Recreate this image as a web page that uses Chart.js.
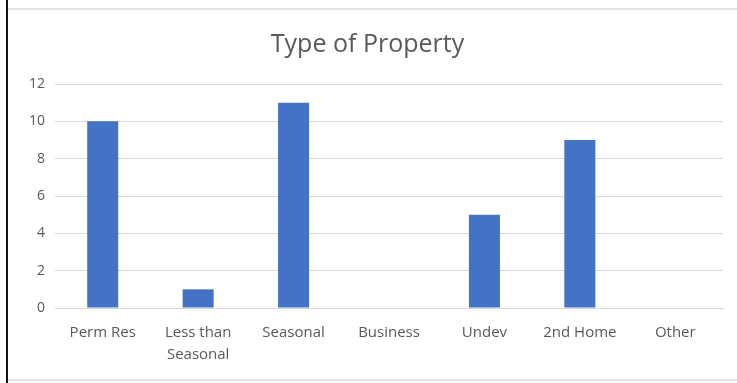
<!DOCTYPE html>
<html>
<head>
<meta charset="utf-8">
<script src="https://cdn.jsdelivr.net/npm/chart.js@4"></script>
<style>
  html, body { margin: 0; padding: 0; background: #fff; }
  #wrap { position: relative; width: 737px; height: 383px; overflow: hidden; }
  #frameLeft { position: absolute; left: 6px; top: 0; width: 2px; height: 383px; background: #111; }
  #frameTop { position: absolute; left: 8px; right: 0; top: 8px; height: 2px; background: #e3e3e3; }
  #frameBottom { position: absolute; left: 8px; right: 0; top: 379px; height: 2px; background: #e3e3e3; }
  #chart { position: absolute; left: 0; top: 0; }
</style>
</head>
<body>
<div id="wrap">
  <canvas id="chart" width="737" height="383"></canvas>
  <div id="frameLeft"></div>
  <div id="frameTop"></div>
  <div id="frameBottom"></div>
</div>
<script>
// Property counts by type
const categories = ["Perm Res", ["Less than", "Seasonal"], "Seasonal", "Business", "Undev", "2nd Home", "Other"];
const counts = [10, 1, 11, 0, 5, 9, 0];
const yTicks = [0, 2, 4, 6, 8, 10, 12];

const textColor = "#595959";
const gridColor = "#d9d9d9";
const fontFamily = "'Open Sans', 'Noto Sans', sans-serif";

new Chart(document.getElementById("chart"), {
  type: "bar",
  data: {
    labels: categories,
    datasets: [{
      label: "Count",
      data: counts,
      backgroundColor: "#4472C4",
      borderWidth: 0,
      categoryPercentage: 1,
      barPercentage: 0.325
    }]
  },
  options: {
    responsive: false,
    animation: false,
    layout: { padding: { left: 12, right: 14, top: 0, bottom: 0 } },
    plugins: {
      legend: { display: false },
      tooltip: { enabled: false },
      title: {
        display: true,
        text: "Type of Property",
        color: textColor,
        font: { family: fontFamily, size: 25, weight: "normal", lineHeight: 1.2 },
        padding: { top: 30, bottom: 24 }
      }
    },
    scales: {
      x: {
        grid: { display: false, drawTicks: false },
        border: { display: true, color: gridColor, width: 1 },
        ticks: {
          color: textColor,
          font: { family: fontFamily, size: 15, lineHeight: 1.47 },
          padding: 14,
          maxRotation: 0,
          autoSkip: false
        },
        afterFit: (scale) => { scale.height = 75; }
      },
      y: {
        min: 0,
        max: 12,
        afterBuildTicks: (scale) => { scale.ticks = yTicks.map(v => ({ value: v })); },
        grid: { color: gridColor, lineWidth: 1, drawTicks: false },
        border: { display: false },
        ticks: {
          color: textColor,
          font: { family: fontFamily, size: 14 },
          padding: 10
        },
        afterFit: (scale) => { scale.width = 43; }
      }
    }
  }
});
</script>
</body>
</html>
